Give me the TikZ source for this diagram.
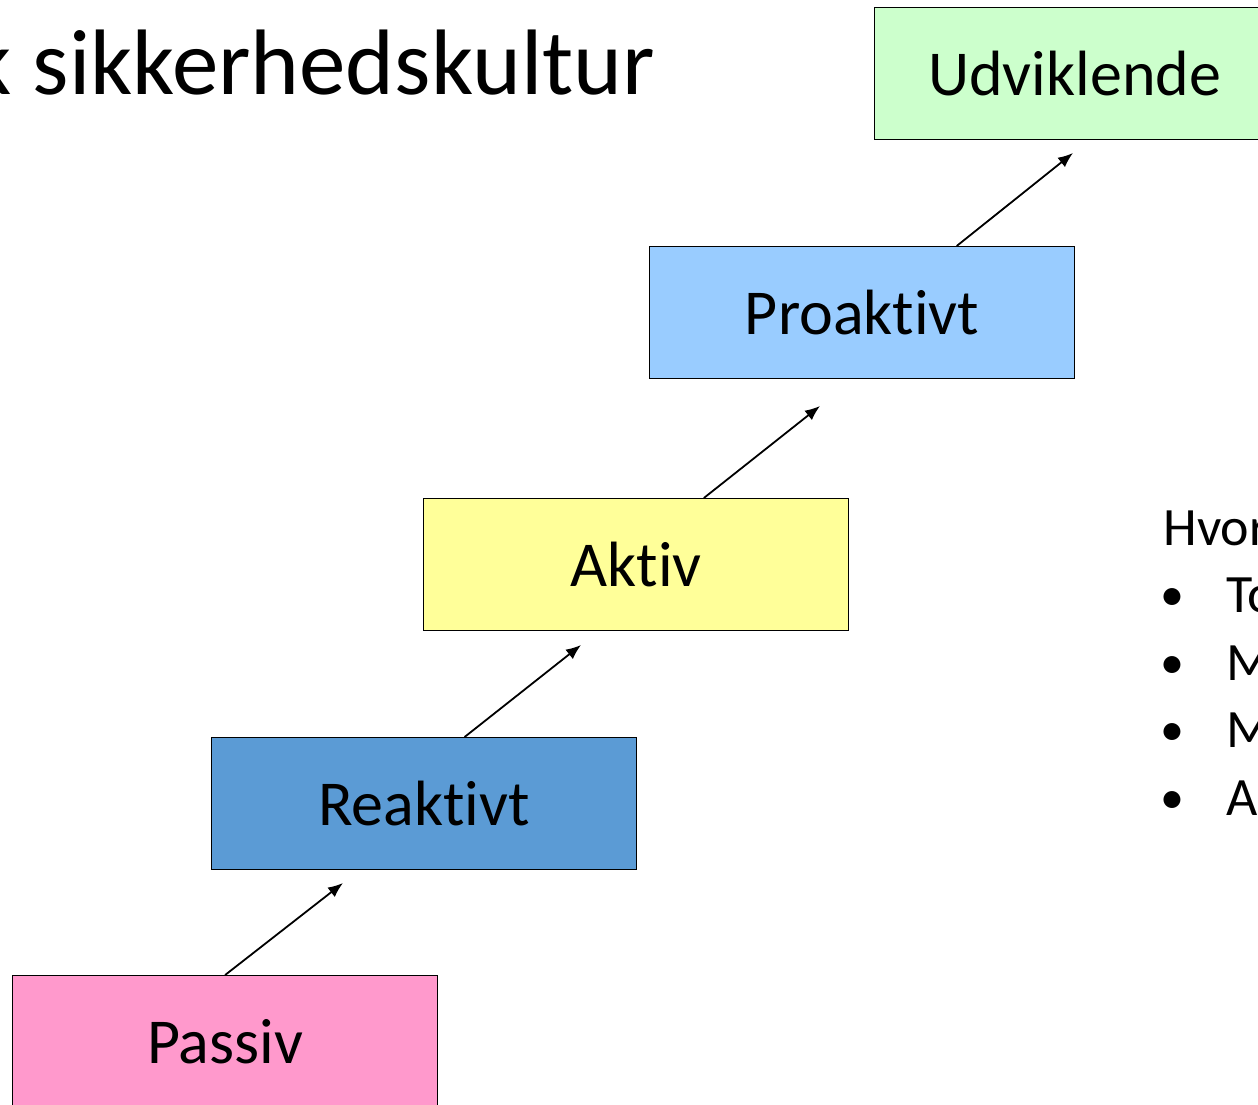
\documentclass[tikz,border=0pt]{standalone}
\usepackage{fontspec}
\setmainfont{Carlito}[Ligatures=NoCommon]
\usetikzlibrary{arrows.meta,calc}

\definecolor{passivfarve}{HTML}{FF99CC}
\definecolor{reaktivfarve}{HTML}{5B9BD5}
\definecolor{aktivfarve}{HTML}{FFFF99}
\definecolor{proaktivfarve}{HTML}{99CCFF}
\definecolor{udvikfarve}{HTML}{CCFFCC}

\tikzset{
    trin/.style={draw=black, line width=0.6pt, minimum width=212.5pt, minimum height=66pt,
        inner sep=0pt, anchor=north west, font=\fontsize{32}{36}\selectfont},
    pil/.style={-{Latex[length=7.5pt,width=6pt]}, line width=0.9pt},
    sidetekst/.style={anchor=base west, inner sep=0pt, font=\fontsize{27}{30}\selectfont}
}

\begin{document}
\begin{tikzpicture}[x=0.5pt,y=-0.5pt]
            \useasboundingbox (0,0) rectangle (1258,1104);
            \clip (0,0) rectangle (1258,1104);
            % Overskrift
            \node[anchor=base west, inner sep=0pt, font=\fontsize{46.5}{50}\selectfont] (titel) at (-31,94) {k sikkerhedskultur};

            % Trinene
            \node[trin, fill=passivfarve] (passiv) at (12,975) {Passiv};
            \node[trin, fill=reaktivfarve] (reaktivt) at (211,737) {Reaktivt};
            \node[trin, fill=aktivfarve] (aktiv) at (423,498) {Aktiv};
            \node[trin, fill=proaktivfarve] (proaktivt) at (649,246) {Proaktivt};
            \node[trin, fill=udvikfarve, minimum width=200pt] (udviklende) at (874,7) {Udviklende};

            % Pile mellem trinene
            \coordinate (pil1) at (343,883);
            \coordinate (pil2) at (581,645);
            \coordinate (pil3) at (820,406);
            \coordinate (pil4) at (1073,153);
            \foreach \fra/\f/\til in {passiv/0.5/pil1,reaktivt/0.595/pil2,aktiv/0.659/pil3,proaktivt/0.722/pil4} {
                \draw[pil] ($(\fra.north west)!\f!(\fra.north east)$) -- (\til);
            }

            % Tekst i hoejre side
            \node[sidetekst] (hvor) at (1163,545) {Hvor};
            \foreach \i/\punkt in {1/To,2/M,3/M,4/A} {
                \node[sidetekst, font=\fontsize{24}{30}\selectfont] (prik\i) at (1160,543+67.5*\i) {•};
                \node[sidetekst] (punkt\i) at (1226,545+67.5*\i) {\punkt};
            }
        \end{tikzpicture}
\end{document}
